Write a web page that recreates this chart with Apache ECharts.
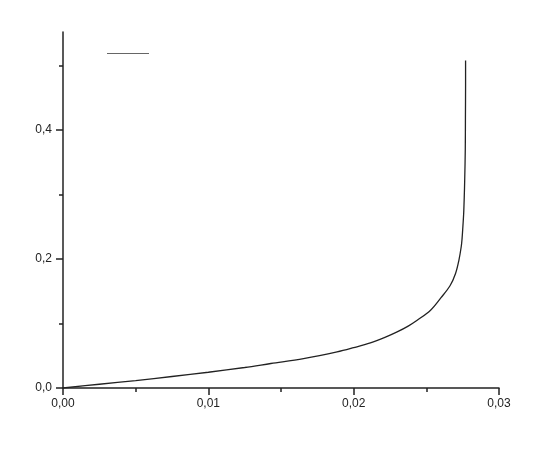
<!DOCTYPE html>
<html>
<head>
<meta charset="utf-8">
<script src="https://cdn.jsdelivr.net/npm/echarts@6/dist/echarts.min.js"></script>
<style>
  html, body { margin: 0; padding: 0; background: #fff; }
  #chart { width: 545px; height: 450px; }
</style>
</head>
<body>
<div id="chart"></div>
<script>
// curve (x, y)
var xValues = [0, 0.0025, 0.005, 0.0075, 0.01, 0.0125, 0.0143, 0.01655, 0.01886, 0.02, 0.02115,
  0.02215, 0.02299, 0.02375, 0.02437, 0.02529, 0.02601, 0.02663, 0.02701, 0.02724,
  0.0274, 0.02746, 0.0275, 0.02757, 0.02761, 0.02764, 0.02768, 0.02769, 0.0277, 0.0277];
var yValues = [0, 0.0058, 0.0115, 0.0178, 0.0244, 0.0318, 0.038, 0.0456, 0.0559, 0.0625, 0.0699,
  0.0785, 0.087, 0.096, 0.105, 0.1207, 0.1401, 0.1585, 0.1776, 0.198,
  0.219, 0.232, 0.245, 0.271, 0.297, 0.3225, 0.37, 0.42, 0.47, 0.508];

var yLabelTicks = [0, 0.2, 0.4];
var yMinorTicks = [0.1, 0.3, 0.5];

var chart = echarts.init(document.getElementById('chart'));

var points = xValues.map(function (x, i) { return [x, yValues[i]]; });

function comma(digits) {
  return function (v) { return v.toFixed(digits).replace('.', ','); };
}

var axisText = { color: '#222', fontSize: 12, fontFamily: 'Liberation Sans' };

var option = {
  animation: false,
  grid: { left: 63, right: 46, top: 32, bottom: 62 },
  legend: {
    left: 102,
    top: 48,
    itemWidth: 42,
    itemHeight: 1,
    itemGap: 0,
    data: [{ name: 'curve', icon: 'rect' }],
    formatter: function () { return ''; },
    itemStyle: { color: '#666' }
  },
  xAxis: {
    type: 'value',
    min: 0,
    max: 0.03,
    interval: 0.01,
    splitLine: { show: false },
    axisLine: { lineStyle: { color: '#222', width: 1.5 } },
    axisTick: { length: 7, lineStyle: { color: '#222', width: 1.5 } },
    minorTick: { show: true, splitNumber: 2, length: 4, lineStyle: { color: '#222', width: 1.5 } },
    axisLabel: Object.assign({ formatter: comma(2), margin: 10 }, axisText)
  },
  yAxis: [
    {
      type: 'value',
      min: 0,
      max: 0.552,
      splitLine: { show: false },
      axisLine: { show: true, lineStyle: { color: '#222', width: 1.5 } },
      axisTick: { show: true, length: 7, customValues: yLabelTicks, lineStyle: { color: '#222', width: 1.5 } },
      axisLabel: Object.assign({ formatter: comma(1), margin: 11, customValues: yLabelTicks }, axisText)
    },
    {
      type: 'value',
      position: 'left',
      offset: 0,
      min: 0,
      max: 0.552,
      splitLine: { show: false },
      axisLine: { show: false },
      axisTick: { show: true, length: 4, customValues: yMinorTicks, lineStyle: { color: '#222', width: 1.5 } },
      axisLabel: { show: false }
    }
  ],
  series: [
    {
      name: 'curve',
      type: 'line',
      data: points,
      yAxisIndex: 0,
      symbol: 'none',
      smooth: 0.35,
      lineStyle: { color: '#222', width: 1.3 },
      itemStyle: { color: '#222' }
    }
  ]
};

chart.setOption(option);
</script>
</body>
</html>
